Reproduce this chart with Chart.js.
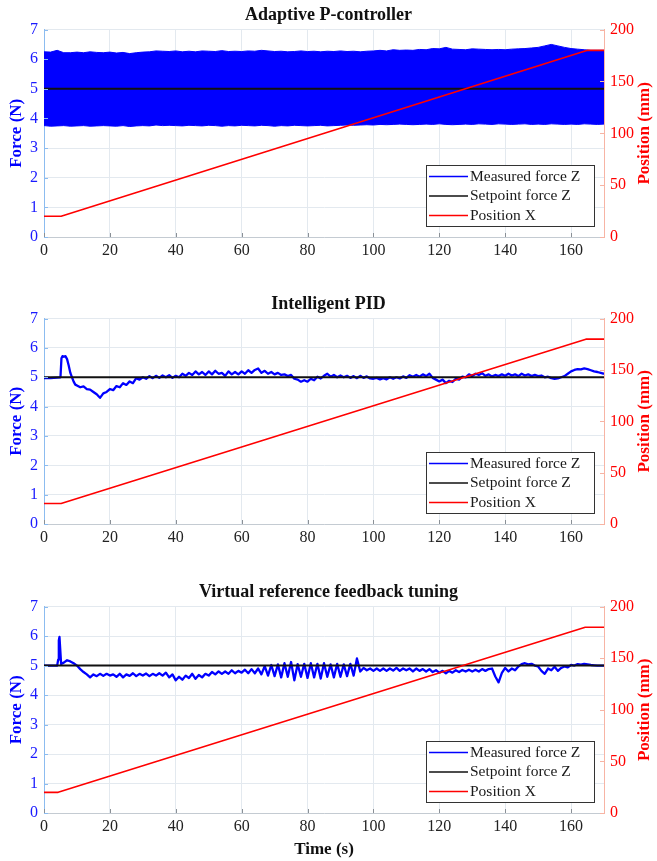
<!DOCTYPE html>
<html>
<head>
<meta charset="utf-8">
<script src="https://cdn.jsdelivr.net/npm/chart.js@4.4.0/dist/chart.umd.min.js"></script>
<style>
  html, body { margin: 0; padding: 0; background: #fff; }
  #wrap { position: relative; width: 657px; height: 861px; }
  .panel { position: absolute; left: 0; width: 657px; }
  canvas { display: block; }
</style>
</head>
<body>
<div id="wrap">
  <div class="panel" style="top:0px"><canvas id="c1" width="657" height="262"></canvas></div>
  <div class="panel" style="top:289px"><canvas id="c2" width="657" height="260"></canvas></div>
  <div class="panel" style="top:577px"><canvas id="c3" width="657" height="284"></canvas></div>
</div>
<script>
/* ---- data ---- */

const titles = ['Adaptive P-controller', 'Intelligent PID', 'Virtual reference feedback tuning'];
const seriesLabels = ['Measured force Z', 'Setpoint force Z', 'Position X'];
const forceTicks = [0, 1, 2, 3, 4, 5, 6, 7];
const positionTicks = [0, 50, 100, 150, 200];
const timeTicks = [0, 20, 40, 60, 80, 100, 120, 140, 160];

const wholeSeconds = [
  0, 1, 2, 3, 4, 5, 6, 7, 8, 9,
  10, 11, 12, 13, 14, 15, 16, 17, 18, 19,
  20, 21, 22, 23, 24, 25, 26, 27, 28, 29,
  30, 31, 32, 33, 34, 35, 36, 37, 38, 39,
  40, 41, 42, 43, 44, 45, 46, 47, 48, 49,
  50, 51, 52, 53, 54, 55, 56, 57, 58, 59,
  60, 61, 62, 63, 64, 65, 66, 67, 68, 69,
  70, 71, 72, 73, 74, 75, 76, 77, 78, 79,
  80, 81, 82, 83, 84, 85, 86, 87, 88, 89,
  90, 91, 92, 93, 94, 95, 96, 97, 98, 99,
  100, 101, 102, 103, 104, 105, 106, 107, 108, 109,
  110, 111, 112, 113, 114, 115, 116, 117, 118, 119,
  120, 121, 122, 123, 124, 125, 126, 127, 128, 129,
  130, 131, 132, 133, 134, 135, 136, 137, 138, 139,
  140, 141, 142, 143, 144, 145, 146, 147, 148, 149,
  150, 151, 152, 153, 154, 155, 156, 157, 158, 159,
  160, 161, 162, 163, 164, 165, 166, 167, 168, 169,
  170
];

const evenSeconds = [
  0, 2, 4, 6, 8, 10, 12, 14, 16, 18,
  20, 22, 24, 26, 28, 30, 32, 34, 36, 38,
  40, 42, 44, 46, 48, 50, 52, 54, 56, 58,
  60, 62, 64, 66, 68, 70, 72, 74, 76, 78,
  80, 82, 84, 86, 88, 90, 92, 94, 96, 98,
  100, 102, 104, 106, 108, 110, 112, 114, 116, 118,
  120, 122, 124, 126, 128, 130, 132, 134, 136, 138,
  140, 142, 144, 146, 148, 150, 152, 154, 156, 158,
  160, 162, 164, 166, 168, 170
];

// panel 1: the force oscillates so fast it reads as a solid band -> upper / lower envelope
const bandUpper1 = [
  6.25, 6.24, 6.30, 6.22, 6.22, 6.24, 6.22, 6.25, 6.23, 6.22,
  6.24, 6.21, 6.23, 6.19, 6.22, 6.24, 6.25, 6.28, 6.27, 6.26,
  6.28, 6.25, 6.27, 6.25, 6.28, 6.27, 6.26, 6.29, 6.26, 6.27,
  6.26, 6.28, 6.27, 6.30, 6.28, 6.26, 6.27, 6.25, 6.26, 6.28,
  6.26, 6.27, 6.25, 6.27, 6.26, 6.28, 6.26, 6.27, 6.25, 6.27,
  6.28, 6.30, 6.28, 6.32, 6.30, 6.31, 6.30, 6.33, 6.32, 6.36,
  6.35, 6.40, 6.34, 6.33, 6.32, 6.35, 6.34, 6.33, 6.32, 6.33,
  6.32, 6.34, 6.35, 6.36, 6.38, 6.40, 6.45, 6.50, 6.45, 6.40,
  6.36, 6.34, 6.32, 6.30, 6.30, 6.30
];
const bandLower1 = [
  3.76, 3.74, 3.75, 3.76, 3.74, 3.75, 3.76, 3.74, 3.75, 3.76,
  3.75, 3.74, 3.76, 3.73, 3.75, 3.76, 3.75, 3.78, 3.76, 3.77,
  3.76, 3.75, 3.77, 3.76, 3.75, 3.77, 3.76, 3.74, 3.76, 3.75,
  3.77, 3.76, 3.75, 3.77, 3.76, 3.74, 3.76, 3.75, 3.77, 3.76,
  3.75, 3.76, 3.77, 3.75, 3.76, 3.77, 3.78, 3.77, 3.78, 3.79,
  3.78, 3.80, 3.79, 3.80, 3.81, 3.80, 3.79, 3.80, 3.81, 3.80,
  3.82, 3.80, 3.79, 3.80, 3.81, 3.80, 3.82, 3.81, 3.80, 3.82,
  3.81, 3.80, 3.81, 3.82, 3.80, 3.81, 3.80, 3.82, 3.81, 3.80,
  3.81, 3.80, 3.82, 3.81, 3.80, 3.81
];

// panel 2: intelligent PID
const forceTime2 = [0, 1, 2, 3, 4, 5, 5.3, 5.6, 6, 6.5, 7, 7.5, 8, 8.5, 9, 9.5].concat(wholeSeconds.slice(10));
const force2 = [
  4.97, 4.98, 4.97, 4.98, 4.99, 5.00, 5.65, 5.72, 5.70, 5.72, 5.62, 5.40, 5.15, 5.00, 4.85, 4.75,
  4.72, 4.66, 4.69, 4.60, 4.58, 4.50, 4.42, 4.30, 4.45, 4.50,
  4.60, 4.56, 4.70, 4.66, 4.80, 4.74, 4.86, 4.80, 4.97, 4.92,
  5.00, 4.95, 5.04, 4.97, 5.05, 4.98, 5.06, 5.00, 5.07, 4.98,
  5.05, 5.00, 5.12, 5.05, 5.15, 5.08, 5.20, 5.10, 5.18, 5.08,
  5.20, 5.10, 5.22, 5.12, 5.15, 5.05, 5.20, 5.10, 5.18, 5.10,
  5.20, 5.12, 5.24, 5.15, 5.25, 5.30, 5.15, 5.22, 5.12, 5.18,
  5.10, 5.15, 5.08, 5.10, 5.04, 5.08, 4.95, 4.92, 4.85, 4.90,
  4.85, 4.95, 4.90, 5.02, 4.96, 5.05, 5.12, 5.02, 5.08, 5.00,
  5.06, 5.00, 5.05, 4.98, 5.04, 4.97, 5.05, 4.98, 5.03, 4.96,
  4.95, 4.98, 4.93, 4.97, 4.93, 5.00, 4.95, 5.00, 4.96, 5.03,
  4.98, 5.07, 5.02, 5.08, 5.02, 5.10, 5.04, 5.12, 4.98, 4.92,
  4.86, 4.92, 4.80, 4.88, 4.84, 4.95, 4.92, 5.02, 5.00, 5.10,
  5.04, 5.12, 5.08, 5.14, 5.05, 5.10, 5.03, 5.08, 5.04, 5.10,
  5.05, 5.12, 5.06, 5.10, 5.04, 5.12, 5.06, 5.10, 5.04, 5.08,
  5.04, 5.06, 5.00, 5.02, 4.97, 4.95, 4.96, 5.00, 5.04, 5.12,
  5.20, 5.25, 5.28, 5.27, 5.30, 5.28, 5.24, 5.20, 5.18, 5.15,
  5.12
];

// panel 3: virtual reference feedback tuning
const forceTime3 = [0, 1, 2, 3, 4, 4.3, 4.5, 4.7, 4.9, 5.2].concat(wholeSeconds.slice(6));
const force3 = [
  5.00, 5.00, 5.00, 5.00, 5.00, 5.20, 5.85, 5.97, 5.60, 5.05,
  5.10, 5.18, 5.14, 5.08,
  5.00, 4.88, 4.78, 4.70, 4.60, 4.70, 4.64, 4.72, 4.65, 4.72,
  4.66, 4.70, 4.62, 4.72, 4.60, 4.70, 4.65, 4.74, 4.64, 4.72,
  4.66, 4.73, 4.64, 4.72, 4.66, 4.74, 4.66, 4.76, 4.60, 4.70,
  4.50, 4.62, 4.52, 4.66, 4.58, 4.72, 4.55, 4.68, 4.60, 4.72,
  4.66, 4.78, 4.70, 4.80, 4.72, 4.80, 4.72, 4.84, 4.74, 4.82,
  4.76, 4.86, 4.74, 4.88, 4.74, 4.90, 4.70, 4.98, 4.66, 5.02,
  4.64, 5.04, 4.60, 5.08, 4.62, 5.12, 4.50, 5.05, 4.62, 5.06,
  4.58, 5.08, 4.60, 5.06, 4.56, 5.08, 4.62, 5.04, 4.60, 5.06,
  4.62, 5.04, 4.64, 5.06, 4.66, 5.24, 4.80, 4.92, 4.84, 4.90,
  4.82, 4.90, 4.82, 4.90, 4.82, 4.90, 4.83, 4.92, 4.82, 4.90,
  4.84, 4.90, 4.80, 4.90, 4.82, 4.88, 4.80, 4.88, 4.78, 4.84,
  4.76, 4.82, 4.74, 4.82, 4.76, 4.84, 4.78, 4.85, 4.80, 4.86,
  4.80, 4.86, 4.80, 4.88, 4.82, 4.88, 4.90, 4.63, 4.43, 4.75,
  4.92, 4.80, 4.90, 4.84, 4.97, 5.05, 5.08, 5.04, 5.06, 5.00,
  4.97, 4.82, 4.72, 4.90, 4.84, 4.96, 4.82, 4.92, 4.97, 4.94,
  5.02, 5.00, 5.05, 5.03, 5.06, 5.04, 5.02, 5.01, 5.00, 5.00,
  5.00
];

const setpointTime = [0, 170];
const setpointForce = [5, 5];

const positionTime1 = [0, 5.2, 165, 170];
const positionTime2 = [0, 5.2, 164.5, 170];
const positionTime3 = [0, 4.3, 164.3, 170];
const positionMm = [20, 20, 180, 180];

/* ---- styling ---- */

const serif = "'Liberation Serif', 'Times New Roman', serif";
const clr = {
  blue: '#0000ff',
  blueText: '#1a1aff',
  blueAxis: '#8cbcf0',
  red: '#ff0000',
  redAxis: '#f7b4a4',
  black: '#111111',
  grid: '#e3e9ef',
  xAxis: '#c4cbd2',
};

function pts(xs, ys) {
  return xs.map((x, i) => ({ x: x, y: ys[i] }));
}

// MATLAB style boxed legend, bottom right inside the plot
const boxLegend = {
  id: 'boxLegend',
  afterDatasetsDraw(chart) {
    const { ctx, chartArea } = chart;
    const items = chart.data.datasets.filter(d => !d.noLegend);
    const w = 168, h = 61;
    const x0 = chartArea.right - 10 - w, y0 = chartArea.bottom - 11 - h;
    ctx.save();
    ctx.fillStyle = '#fff';
    ctx.fillRect(x0, y0, w, h);
    ctx.strokeStyle = '#333';
    ctx.lineWidth = 1;
    ctx.strokeRect(x0 + 0.5, y0 + 0.5, w, h);
    ctx.font = '15.5px ' + serif;
    ctx.textBaseline = 'middle';
    items.forEach((d, i) => {
      const yy = y0 + 11.5 + i * 19.5;
      ctx.strokeStyle = d.borderColor;
      ctx.lineWidth = 1.5;
      ctx.beginPath();
      ctx.moveTo(x0 + 3, yy);
      ctx.lineTo(x0 + 42, yy);
      ctx.stroke();
      ctx.fillStyle = '#1a1a1a';
      ctx.fillText(d.label, x0 + 44, yy);
    });
    ctx.restore();
  }
};

// right axis title reads bottom-to-top like MATLAB, plus small inward ticks
const axisDecor = {
  id: 'axisDecor',
  afterDraw(chart) {
    const { ctx, chartArea } = chart;
    const sx = chart.scales.x, yl = chart.scales.y, yr = chart.scales.y1;
    ctx.save();
    ctx.lineWidth = 1;
    ctx.strokeStyle = '#8a9096';
    sx.ticks.forEach(t => {
      const px = Math.round(sx.getPixelForValue(t.value)) + 0.5;
      ctx.beginPath(); ctx.moveTo(px, chartArea.bottom); ctx.lineTo(px, chartArea.bottom - 4); ctx.stroke();
    });
    ctx.strokeStyle = clr.blueAxis;
    yl.ticks.forEach(t => {
      const py = Math.round(yl.getPixelForValue(t.value)) + 0.5;
      ctx.beginPath(); ctx.moveTo(chartArea.left, py); ctx.lineTo(chartArea.left + 4, py); ctx.stroke();
    });
    ctx.strokeStyle = clr.redAxis;
    yr.ticks.forEach(t => {
      const py = Math.round(yr.getPixelForValue(t.value)) + 0.5;
      ctx.beginPath(); ctx.moveTo(chartArea.right, py); ctx.lineTo(chartArea.right - 4, py); ctx.stroke();
    });
    ctx.translate(chartArea.right + 41, (chartArea.top + chartArea.bottom) / 2);
    ctx.rotate(-Math.PI / 2);
    ctx.font = 'bold 17px ' + serif;
    ctx.fillStyle = clr.red;
    ctx.textAlign = 'center';
    ctx.textBaseline = 'middle';
    ctx.fillText('Position (mm)', 0, 0);
    ctx.restore();
  }
};

function buildPanel(canvasId, title, forceSets, posTime, showTimeTitle) {
  const datasets = forceSets.concat([
    {
      label: seriesLabels[1],
      data: pts(setpointTime, setpointForce),
      borderColor: clr.black, borderWidth: 2, yAxisID: 'y', order: 1,
    },
    {
      label: seriesLabels[2],
      data: pts(posTime, positionMm),
      borderColor: clr.red, borderWidth: 1.6, yAxisID: 'y1', order: 0,
    },
  ]);
  return new Chart(document.getElementById(canvasId), {
    type: 'line',
    data: { datasets: datasets },
    options: {
      responsive: false,
      animation: false,
      events: [],
      elements: { point: { radius: 0 }, line: { tension: 0, borderJoinStyle: 'round' } },
      layout: { padding: 0 },
      plugins: {
        legend: { display: false },
        tooltip: { enabled: false },
        title: {
          display: true, text: title, color: '#111',
          font: { family: serif, size: 18, weight: 'bold', lineHeight: 1.2 },
          padding: { top: 5, bottom: 3 },
        },
      },
      scales: {
        x: {
          type: 'linear', min: 0, max: 170,
          afterFit: s => { s.height = showTimeTitle ? 48 : 25; },
          afterBuildTicks: s => { s.ticks = timeTicks.map(v => ({ value: v })); },
          grid: { color: clr.grid, drawTicks: false },
          border: { color: clr.xAxis },
          ticks: { color: '#222', padding: 4, font: { family: serif, size: 16 } },
          title: {
            display: showTimeTitle, text: 'Time (s)', color: '#111',
            font: { family: serif, size: 17, weight: 'bold' }, padding: { top: 0, bottom: 1 },
          },
        },
        y: {
          position: 'left', min: 0, max: 7,
          afterFit: s => { s.width = 44; },
          afterBuildTicks: s => { s.ticks = forceTicks.map(v => ({ value: v })); },
          grid: { color: clr.grid, drawTicks: false },
          border: { color: clr.blueAxis },
          ticks: { color: clr.blueText, padding: 6, font: { family: serif, size: 16 } },
          title: {
            display: true, text: 'Force (N)', color: clr.blue,
            font: { family: serif, size: 17, weight: 'bold' }, padding: { top: 6, bottom: 0 },
          },
        },
        y1: {
          position: 'right', min: 0, max: 200,
          afterFit: s => { s.width = 53; },
          afterBuildTicks: s => { s.ticks = positionTicks.map(v => ({ value: v })); },
          grid: { display: false, drawTicks: false },
          border: { color: clr.redAxis },
          ticks: { color: clr.red, padding: 6, font: { family: serif, size: 16 } },
        },
      },
    },
    plugins: [boxLegend, axisDecor],
  });
}

// panel 1: envelope band, lower edge filled up to upper edge
buildPanel('c1', titles[0], [
  {
    label: seriesLabels[0],
    data: pts(evenSeconds, bandUpper1),
    borderColor: clr.blue, backgroundColor: clr.blue, borderWidth: 1,
    fill: '+1', yAxisID: 'y', order: 2,
  },
  {
    label: 'lower',
    noLegend: true,
    data: pts(evenSeconds, bandLower1),
    borderColor: clr.blue, borderWidth: 1, fill: false, yAxisID: 'y', order: 3,
  },
], positionTime1, false);

buildPanel('c2', titles[1], [
  {
    label: seriesLabels[0],
    data: pts(forceTime2, force2),
    borderColor: clr.blue, borderWidth: 2.3, yAxisID: 'y', order: 2,
  },
], positionTime2, false);

buildPanel('c3', titles[2], [
  {
    label: seriesLabels[0],
    data: pts(forceTime3, force3),
    borderColor: clr.blue, borderWidth: 2.3, yAxisID: 'y', order: 2,
  },
], positionTime3, true);
</script>
</body>
</html>
